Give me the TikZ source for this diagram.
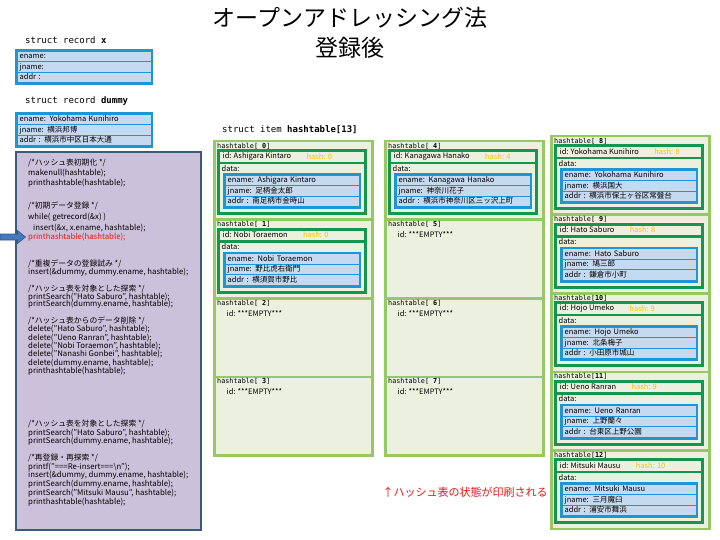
\documentclass[tikz,border=0pt]{standalone}
\usepackage{fontspec}
\setmainfont{Noto Sans CJK JP}
\setmonofont{DejaVu Sans Mono}
\usepackage{xcolor}
\usepackage{tikz}
\usetikzlibrary{positioning}

\definecolor{slotgreen}{RGB}{150,200,100}
\definecolor{slotfill}{RGB}{235,241,222}
\definecolor{itemgreen}{RGB}{20,150,80}
\definecolor{recblue}{RGB}{31,150,210}
\definecolor{rowblue}{RGB}{197,217,241}
\definecolor{hashyellow}{RGB}{255,192,0}
\definecolor{lavender}{RGB}{204,193,218}
\definecolor{slate}{RGB}{60,90,125}
\definecolor{codered}{RGB}{235,20,20}
\definecolor{arrowblue}{RGB}{70,120,190}
\definecolor{arrowedge}{RGB}{45,85,145}

\newcommand{\txtfont}{\fontsize{7.5}{9}\selectfont}

% record: blue frame with three rows
\newcommand{\recbox}[6]{%
  \node[recframe] (#1) at (#2,#3) {};
  \node[recrow] (#1-en) at (#2+2.5,#3+2.5) {ename: #4};
  \node[recrow] (#1-jn) at (#2+2.5,#3+13) {jname: #5};
  \node[recrow] (#1-ad) at (#2+2.5,#3+23.5) {addr : #6};
}
% used slot: name, x, y, index, id/ename, hash, jname, addr
\newcommand{\fullslot}[8]{%
  \node[slot] (#1) at (#2,#3) {};
  \node[slotlbl] (#1-lbl) at (#2+4,#3+6) {hashtable[\ifnum#4<10\ \fi\textbf{#4}]};
  \node[itembox] (#1-item) at (#2+4,#3+9) {};
  \node[idrow] (#1-idrow) at (#2+7,#3+12) {};
  \node[txt] (#1-id) at (#2+9,#3+16.5) {id: #5};
  \node[txt, text=hashyellow, right=14pt of #1-id] (#1-hash) {hash: #6};
  \node[dataarea] (#1-data) at (#2+7,#3+24) {};
  \node[txt] (#1-dlbl) at (#2+8,#3+28.5) {data:};
  \recbox{#1-rec}{#2+10}{#3+33}{#5}{#7}{#8}
}
% empty slot: name, x, y, index
\newcommand{\emptyslot}[4]{%
  \node[slot] (#1) at (#2,#3) {};
  \node[slotlbl] (#1-lbl) at (#2+4,#3+6) {hashtable[\ifnum#4<10\ \fi\textbf{#4}]};
  \node[txt] (#1-id) at (#2+13,#3+16.5) {id: ***EMPTY***};
}

\begin{document}
\begin{tikzpicture}[x=1pt, y=-1pt,
  txt/.style={anchor=west, inner sep=0.5pt, font=\txtfont},
  code/.style={anchor=base west, inner sep=0pt, font=\fontsize{7.8}{9}\selectfont},
  structlbl/.style={anchor=west, inner sep=0pt, font=\ttfamily\fontsize{9}{10}\selectfont},
  slotlbl/.style={anchor=west, inner sep=0pt, font=\ttfamily\fontsize{6.8}{8}\selectfont},
  slot/.style={anchor=north west, inner sep=0pt, minimum width=158pt, minimum height=78.5pt,
    fill=slotfill, draw=slotgreen, line width=2.5pt},
  itembox/.style={anchor=north west, inner sep=0pt, minimum width=150pt, minimum height=66pt, fill=itemgreen},
  idrow/.style={anchor=north west, inner sep=0pt, minimum width=144pt, minimum height=9.5pt, fill=slotfill},
  dataarea/.style={anchor=north west, inner sep=0pt, minimum width=144pt, minimum height=48pt, fill=slotfill},
  recframe/.style={anchor=north west, inner sep=0pt, minimum width=138pt, minimum height=36pt, fill=recblue},
  recrow/.style={anchor=north west, inner xsep=2pt, inner ysep=0pt, text width=129pt, align=left,
    text height=6pt, text depth=1.5pt, minimum height=9.5pt, fill=rowblue, font=\txtfont},
  codebox/.style={anchor=north west, inner sep=0pt, minimum width=185pt, minimum height=378pt,
    fill=lavender, draw=slate, line width=2pt},
  pointer/.style={fill=arrowblue, draw=arrowedge, line width=0.6pt},
  title/.style={align=center, inner sep=0pt, font=\fontsize{23}{30}\selectfont},
  note/.style={inner sep=0pt, text=codered, font=\fontsize{11}{13}\selectfont}]
\useasboundingbox (0,0) rectangle (720,540);

% Title
\node[title] (title) at (350,33) {オープンアドレッシング法\\登録後};

% Records x and dummy
\node[structlbl] (recx) at (25,40) {struct record \textbf{x}};
\recbox{xrec}{15}{49}{}{}{}
\node[structlbl] (recdummy) at (25,101) {struct record \textbf{dummy}};
\recbox{dummyrec}{15}{112}{Yokohama Kunihiro}{横浜邦博}{横浜市中区日本大通}

% Program
\node[codebox] (code) at (15,151) {};
\node[code] (c1) at (28,166) {/*ハッシュ表初期化 */};
\node[code] (c2) at (28,176) {makenull(hashtable);};
\node[code] (c3) at (28,186) {printhashtable(hashtable);};
\node[code] (c4) at (28,208) {/*初期データ登録 */};
\node[code] (c5) at (28,219) {while( getrecord(\&x) )};
\node[code] (c6) at (33,230) {insert(\&x, x.ename, hashtable);};
\node[code, text=codered] (c7) at (28,240) {printhashtable(hashtable);};
\node[code] (c8) at (28,266) {/*重複データの登録試み */};
\node[code] (c9) at (28,274) {insert(\&dummy, dummy.ename, hashtable);};
\node[code] (c10) at (28,291) {/*ハッシュ表を対象とした探索 */};
\node[code] (c11) at (28,299) {printSearch("Hato Saburo", hashtable);};
\node[code] (c12) at (28,306) {printSearch(dummy.ename, hashtable);};
\node[code] (c13) at (28,323) {/*ハッシュ表からのデータ削除 */};
\node[code] (c14) at (28,331) {delete("Hato Saburo", hashtable);};
\node[code] (c15) at (28,340) {delete("Ueno Ranran", hashtable);};
\node[code] (c16) at (28,348) {delete("Nobi Toraemon", hashtable);};
\node[code] (c17) at (28,356) {delete("Nanashi Gonbei", hashtable);};
\node[code] (c18) at (28,365) {delete(dummy.ename, hashtable);};
\node[code] (c19) at (28,373) {printhashtable(hashtable);};
\node[code] (c20) at (28,426) {/*ハッシュ表を対象とした探索 */};
\node[code] (c21) at (28,435) {printSearch("Hato Saburo", hashtable);};
\node[code] (c22) at (28,443) {printSearch(dummy.ename, hashtable);};
\node[code] (c23) at (28,460) {/*再登録・再探索 */};
\node[code] (c24) at (28,469) {printf("===Re-insert===\textbackslash n");};
\node[code] (c25) at (28,477) {insert(\&dummy, dummy.ename, hashtable);};
\node[code] (c26) at (28,486) {printSearch(dummy.ename, hashtable);};
\node[code] (c27) at (28,495) {printSearch("Mitsuki Mausu", hashtable);};
\node[code] (c28) at (28,504) {printhashtable(hashtable);};
% block arrow at the red line
\filldraw[pointer] (0,234) -- (17.5,234) -- (17.5,230.5) -- (25.5,237)
  -- (17.5,243.5) -- (17.5,240) -- (0,240) -- cycle;

% Hash table
\node[structlbl] (tbl) at (222,130) {struct item \textbf{hashtable[13]}};
\fullslot{s0}{213}{140}{0}{Ashigara Kintaro}{0}{足柄金太郎}{南足柄市金時山}
\fullslot{s1}{213}{218.5}{1}{Nobi Toraemon}{0}{野比虎右衛門}{横須賀市野比}
\emptyslot{s2}{213}{297}{2}
\emptyslot{s3}{213}{375.5}{3}
\fullslot{s4}{384}{140}{4}{Kanagawa Hanako}{4}{神奈川花子}{横浜市神奈川区三ッ沢上町}
\emptyslot{s5}{384}{218.5}{5}
\emptyslot{s6}{384}{297}{6}
\emptyslot{s7}{384}{375.5}{7}
\fullslot{s8}{550}{135}{8}{Yokohama Kunihiro}{8}{横浜国大}{横浜市保土ヶ谷区常盤台}
\fullslot{s9}{550}{213.5}{9}{Hato Saburo}{8}{鳩三郎}{鎌倉市小町}
\fullslot{s10}{550}{292}{10}{Hojo Umeko}{9}{北条梅子}{小田原市城山}
\fullslot{s11}{550}{370.5}{11}{Ueno Ranran}{9}{上野蘭々}{台東区上野公園}
\fullslot{s12}{550}{449}{12}{Mitsuki Mausu}{10}{三月魔臼}{浦安市舞浜}

% Note
\node[note] (note) at (465,492) {↑ハッシュ表の状態が印刷される};
\end{tikzpicture}
\end{document}
